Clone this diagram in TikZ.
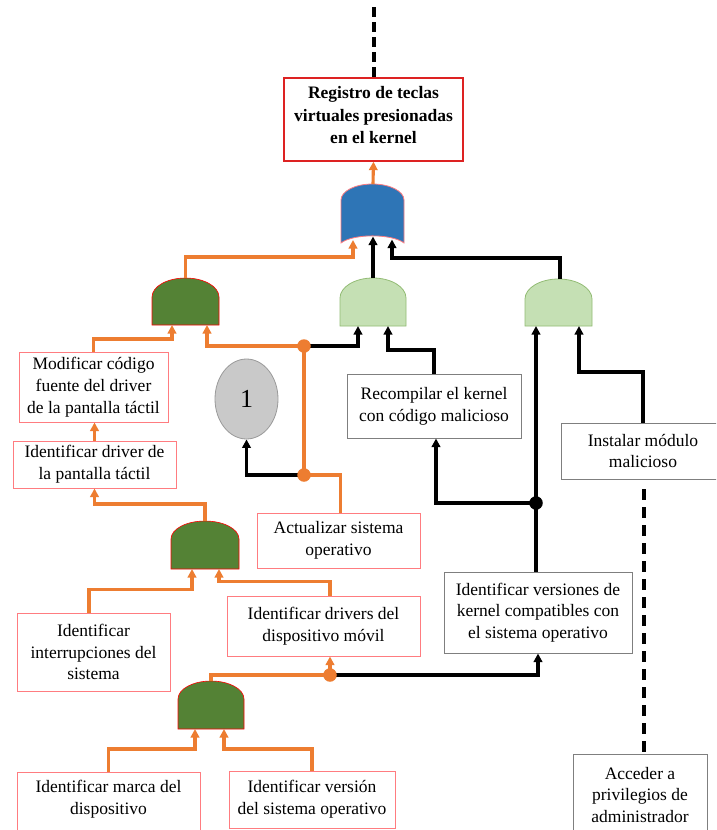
\documentclass[tikz,border=0pt]{standalone}
\usepackage{fontspec}
\setmainfont{Liberation Serif}
\usetikzlibrary{arrows.meta,shapes.geometric,calc}
\definecolor{orgC}{HTML}{ED7D31}
\definecolor{dgreen}{HTML}{548235}
\definecolor{lgreen}{HTML}{C5E0B4}
\definecolor{lgreenB}{HTML}{93BC75}
\definecolor{blueC}{HTML}{2E75B6}
\definecolor{pinkB}{HTML}{FF7C80}
\definecolor{redB}{HTML}{DD2222}
\definecolor{grayB}{HTML}{7F7F7F}
\definecolor{ellF}{HTML}{C9C9C9}
\definecolor{ellB}{HTML}{9A9A9A}
\tikzset{
  txt/.style={font=\fontsize{17.5}{21.7}\selectfont},
  rbox/.style={txt,draw=pinkB,line width=1pt,inner sep=0pt,align=center,fill=white},
  gbox/.style={txt,draw=grayB,line width=1pt,inner sep=0pt,align=center,fill=white},
  tbox/.style={txt,draw=redB,line width=1.3pt,inner sep=0pt,align=center,fill=white,font=\fontsize{17.5}{22.5}\selectfont\bfseries},
  oline/.style={draw=orgC,line width=3.1pt},
  bline/.style={draw=black,line width=3.1pt},
  oarr/.style={oline,-{Triangle[length=8.5pt,width=8.5pt]}},
  barr/.style={bline,-{Triangle[length=8.5pt,width=8.5pt]}},
  dgate/.style={fill=dgreen,draw=red,line width=0.6pt},
  lgate/.style={fill=lgreen,draw=lgreenB,line width=0.8pt},
  ogate/.style={fill=blueC,draw=pinkB,line width=0.8pt},
  odot/.style={circle,fill=orgC,inner sep=0pt,minimum size=13.5pt},
  bdot/.style={circle,fill=black,inner sep=0pt,minimum size=13.5pt},
  dashA/.style={draw=black,line width=3.2pt,dash pattern=on 10pt off 5pt},
  dashB/.style={draw=black,line width=3.2pt,dash pattern=on 11pt off 7pt},
}
\begin{document}
\begin{tikzpicture}[x=1pt,y=-1pt]
\clip (0,0) rectangle (716,830);
\fill[white] (0,0) rectangle (716,830);

% ---------- gates ----------
% OR gate (blue)
\draw[ogate] (341,243) -- (341,200) .. controls (341,191.2) and (355.1,184) .. (372.5,184)
  .. controls (389.9,184) and (404,191.2) .. (404,200) -- (404,243)
  .. controls (392,233.5) and (353,233.5) .. (341,243) -- cycle;
\coordinate (orout) at (373,184);
\coordinate (orA) at (353,240);
\coordinate (orB) at (373,236.5);
\coordinate (orC) at (392,239.5);
% g1 dark green
\draw[dgate] (152,325) -- (152,297) .. controls (152,286.5) and (167,278) .. (185.5,278)
  .. controls (204,278) and (219,286.5) .. (219,297) -- (219,325) -- cycle;
\coordinate (g1out) at (185.5,278);
\coordinate (g1a) at (172,325);
\coordinate (g1b) at (207,325);
% g2 light green
\draw[lgate] (340,326) -- (340,298) .. controls (340,287) and (354.8,278) .. (373,278)
  .. controls (391.2,278) and (406,287) .. (406,298) -- (406,326) -- cycle;
\coordinate (g2out) at (373,278);
\coordinate (g2a) at (358,326);
\coordinate (g2b) at (388,326);
% g3 light green
\draw[lgate] (525,326) -- (525,299) .. controls (525,288) and (540,279) .. (558.5,279)
  .. controls (577,279) and (592,288) .. (592,299) -- (592,326) -- cycle;
\coordinate (g3out) at (560,279);
\coordinate (g3a) at (536,326);
\coordinate (g3b) at (579,326);
% g4 dark green
\draw[dgate] (171,569) -- (171,539) .. controls (171,529) and (186.2,521) .. (205,521)
  .. controls (223.8,521) and (239,529) .. (239,539) -- (239,569) -- cycle;
\coordinate (g4out) at (205,521);
\coordinate (g4a) at (192,569);
\coordinate (g4b) at (219,569);
% g5 dark green
\draw[dgate] (178,729) -- (178,699) .. controls (178,689) and (192.8,681) .. (211,681)
  .. controls (229.2,681) and (244,689) .. (244,699) -- (244,729) -- cycle;
\coordinate (g5out) at (211,681);
\coordinate (g5a) at (195,729);
\coordinate (g5b) at (224,729);

% ---------- boxes ----------
\node[tbox,minimum width=179pt,minimum height=83pt] (title) at (373.5,119.5)
  {Registro de teclas\\virtuales presionadas\\en el kernel\\[-13.5pt]\mbox{}};
\node[rbox,minimum width=149pt,minimum height=70pt] (mod) at (93.5,387)
  {Modificar código\\fuente del driver\\de la pantalla táctil};
\node[rbox,minimum width=163pt,minimum height=47pt] (idd) at (94.5,464.5)
  {Identificar driver de\\la pantalla táctil};
\node[rbox,minimum width=163pt,minimum height=55pt] (act) at (338.5,540.5)
  {Actualizar sistema\\operativo};
\node[rbox,minimum width=153pt,minimum height=78pt] (intr) at (93.5,652)
  {Identificar\\interrupciones del\\sistema};
\node[rbox,minimum width=193pt,minimum height=60pt] (drv) at (323.5,626)
  {Identificar drivers del\\dispositivo móvil};
\node[rbox,minimum width=183pt,minimum height=62pt] (marca) at (108.5,803)
  {Identificar marca del\\dispositivo\\[-11pt]\mbox{}};
\node[rbox,minimum width=166pt,minimum height=57pt] (version) at (312,799.5)
  {Identificar versión\\del sistema operativo};
\node[gbox,minimum width=174pt,minimum height=64pt] (recomp) at (434,406)
  {Recompilar el kernel\\con código malicioso};
\node[gbox,minimum width=164pt,minimum height=56pt] (inst) at (643,451)
  {Instalar módulo\\malicioso};
\node[gbox,minimum width=188pt,minimum height=81pt] (vers) at (538,612.5)
  {Identificar versiones de\\kernel compatibles con\\el sistema operativo};
\node[gbox,minimum width=134pt,minimum height=82pt] (acc) at (640,795)
  {Acceder a\\privilegios de\\administrador};
\node[ellipse,draw=ellB,fill=ellF,line width=0.8pt,minimum width=63pt,minimum height=80pt,inner sep=0pt,
  font=\fontsize{26}{26}\selectfont] (ell) at (246.5,399) {1};

% ---------- dots ----------
\coordinate (d1) at (304,346);
\coordinate (d2) at (304,475);
\coordinate (d3) at (330,675);
\coordinate (d4) at (536,503);

% ---------- connectors ----------
\draw[oarr] (orout) -- (title.south);
\draw[oarr] (g1out) -- (g1out |- 0,257) -| (orA);
\draw[barr] (g2out) -- (orB);
\draw[barr] (g3out) -- (g3out |- 0,258) -| (orC);

\draw[oarr] (mod.north) -- (mod.north |- 0,339) -| (g1a);
\draw[oarr] (d1) -| (g1b);
\draw[barr] (d1) -| (g2a);
\draw[barr] (recomp.north) -- (recomp.north |- 0,350) -| (g2b);
\draw[oline] (d2) -- (d1);
\draw[barr] (d2) -| (ell.south);
\draw[oline] ($(act.north)+(2,0)$) |- (d2);

\draw[oarr] (idd.north) -- (idd.north |- mod.south);
\draw[oarr] (g4out) -- (g4out |- 0,504) -| (idd.south);
\draw[oarr] ($(intr.north)+(-4.5,0)$) -- ++(0,-23) -| (g4a);
\draw[oarr] ($(drv.north)+(6.5,0)$) -- ++(0,-14) -| (g4b);

\draw[oarr] (d3) -- (d3 |- drv.south);
\draw[oline] (g5out) |- (d3);
\draw[barr] (d3) -| (vers.south);
\draw[oarr] (marca.north) -- (marca.north |- 0,749) -| (g5a);
\draw[oarr] (version.north) -- (version.north |- 0,749) -| (g5b);

\draw[bline] (d4 |- vers.north) -- (d4);
\draw[barr] (d4) -- (g3a);
\draw[barr] (d4) -| ($(recomp.south)+(2,0)$);
\draw[barr] (inst.north) -- (inst.north |- 0,372) -| (g3b);

\coordinate (topend) at (374,7);
\draw[dashA] (topend) -- (title.north -| topend);
\coordinate (dashtop) at (644,489);
\draw[dashB] (dashtop) -- (dashtop |- acc.north);

\node[odot] (dot1) at (d1) {};
\node[odot] (dot2) at (d2) {};
\node[odot] (dot3) at (d3) {};
\node[bdot] (dot4) at (d4) {};
\end{tikzpicture}
\end{document}
